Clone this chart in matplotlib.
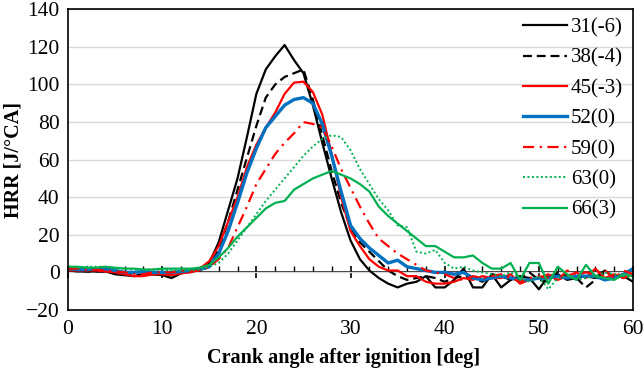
import numpy as np
import matplotlib
matplotlib.use("Agg")
import matplotlib.pyplot as plt
from matplotlib.ticker import MultipleLocator

plt.rcParams['font.family'] = ['Liberation Serif', 'DejaVu Serif']

#%% Data (HRR in J/degCA, one point per deg)

ca = np.arange(0, 61)

hrr_31 = [1, 0.5, 0.5, 0.5, 0.5, -1, -1.5, -2, -1.5, -1,
          -1.5, -3, -0.5, 0.5, 1, 5, 16, 33, 50, 72,
          95, 108, 115, 121, 113, 106, 89, 69, 50, 32,
          17, 7, 1, -3, -6, -8, -6, -5, -2, -8,
          -8, -4, 2, -8, -8, -1, -8, -4, -2, -3,
          -9, -2, -1, -4, -3, -2, -3, 1, -3, -2, -5]
hrr_38 = [1, 1, 0.5, 0.5, 0.5, 0, -1, -1.5, -1, -1,
          -1, -1.5, 0, 0.5, 1, 3, 12, 27, 44, 61,
          78, 93, 100, 104, 106, 108, 92, 73, 54, 37,
          24, 16, 11, 6, 1, -2, -4, -3, -2, -3,
          -5, -3, -2, -3, -5, -1, -2, -4, -3, 0,
          -4, -5, 0, -2, -3, -8, -4, 0, -2, -3, -1]
hrr_45 = [1, 1, 1, 1, 0.5, 0, -1, -2, -2, -1,
          -1, -1.5, -0.5, 0, 2, 6, 14, 27, 40, 56,
          68, 77, 85, 95, 101, 101.5, 96, 84, 63, 40,
          22, 14, 7, 3, 1, 1, -2, -2, -5, -6,
          -6, -5, -3, -4, -2, -3, -3, -1, -6, -4,
          -3, -1, -4, -2, 0, -3, 2, -3, -1, -3, -1]
hrr_52 = [2, 1.5, 1.5, 2, 2, 1, 0, 0, 0.5, 0,
          0, 0, 0.5, 1, 1.5, 3, 10, 22, 37, 53,
          66, 77, 83, 89, 92, 93, 90, 79, 62, 43,
          25, 18, 13, 9, 5, 6.5, 3, 2, 1, 0,
          0, -1, 0, -3, -4, -3, -2, -3, -4, -4,
          -3, -3, -2, -3, -2, -2, -2, -4, -3, -1, 2]
hrr_59 = [2, 2, 1.5, 1.5, 1, 0.5, 0, -1, -1, 0,
          0, 0, 1, 0.5, 1, 3, 7, 13, 24, 35,
          47, 55, 63, 69, 74, 80, 79, 77, 67, 55,
          45, 35, 26, 18, 14, 10, 7, 4, 1, 0,
          -1, -3, -4, -2, -3, -2, -1, -3, -5, -3,
          -2, -3, -4, 1, -1, 0, -1, 1, -3, 1, -1]
hrr_63 = [3, 2.5, 3, 3, 3, 2, 2, 1.5, 1.5, 1.5,
          1.5, 1, 1, 1, 1.5, 3, 5, 10, 17, 24,
          31, 38, 44, 50, 56, 62, 67, 71, 73, 72,
          65, 55, 47, 39, 33, 25, 24, 11, 10, 12,
          5, 2, 3, 1, 0, -1, -2, 0, -3, -5,
          -2, -9, -3, -2, -4, -3, -2, 0, -1, -2, -3]
hrr_66 = [3, 3, 2.5, 2.5, 3, 2.5, 2, 2, 1.5, 1.5,
          2, 2, 2, 2, 2.5, 4, 8, 13, 19, 24,
          29, 34, 37, 38, 44, 47, 50, 52, 54, 52,
          50, 47, 43, 35, 30, 26, 22, 18, 14, 14,
          11, 8, 8, 9, 5, 2, 2, 5, -4, 5,
          5, -6, 3, -1, -4, 4, -2, -3, -4, -1, -2]

labels = ["31(-6)", "38(-4)", "45(-3)", "52(0)", "59(0)", "63(0)", "66(3)"]

#%% Plot

fig = plt.figure(figsize=(6.44, 3.73), dpi=100)
ax = fig.add_axes([0.1056, 0.169, 0.8774, 0.806])

ax.plot(ca, hrr_31, color="k", lw=1.6, label=labels[0])
ax.plot(ca, hrr_38, color="k", lw=1.6, ls=(0, (4, 2.2)), label=labels[1])
ax.plot(ca, hrr_45, color="#FF0000", lw=1.6, label=labels[2])
ax.plot(ca, hrr_52, color="#0070C0", lw=2.4, label=labels[3])
ax.plot(ca, hrr_59, color="#FF0000", lw=1.6, ls=(0, (5, 2.5, 1, 2.5)), label=labels[4])
ax.plot(ca, hrr_63, color="#00B050", lw=1.4, ls=(0, (1, 1.3)), label=labels[5])
ax.plot(ca, hrr_66, color="#00B050", lw=1.6, label=labels[6])

ax.set_xlim(0, 60)
ax.set_ylim(-20, 140)
ax.set_xticks(range(0, 61, 10))
ax.set_yticks(range(-20, 141, 20))
ax.tick_params(axis="both", length=0, labelsize=15.5)
ax.tick_params(axis="x", pad=7)
ax.tick_params(axis="y", pad=6)
ax.grid(True, axis="y", color="#D9D9D9", lw=1)
ax.set_axisbelow(True)
for s in ax.spines.values():
    s.set_linewidth(1.2)

# zero line with tick marks
sec = ax.secondary_xaxis(20 / 160)
sec.set_xticks(range(0, 61, 10))
sec.xaxis.set_minor_locator(MultipleLocator(2))
sec.tick_params(which="major", direction="inout", length=9, width=1.2,
                labelbottom=False)
sec.tick_params(which="minor", direction="in", length=4, width=1)
sec.spines["bottom"].set_linewidth(1.2)

ax.set_xlabel("Crank angle after ignition [deg]", fontsize=14.5,
              fontweight="bold", labelpad=7)
ax.xaxis.label.set_x(0.487)
ax.set_ylabel("HRR [J/°CA]", fontsize=14.5, fontweight="bold", labelpad=2)

ax.legend(loc="upper left", bbox_to_anchor=(0.779, 1.02), frameon=False,
          fontsize=15, handlelength=2.1, handletextpad=0.2,
          labelspacing=0.52, borderpad=0.2)

fig.savefig("out.png", dpi=100)
